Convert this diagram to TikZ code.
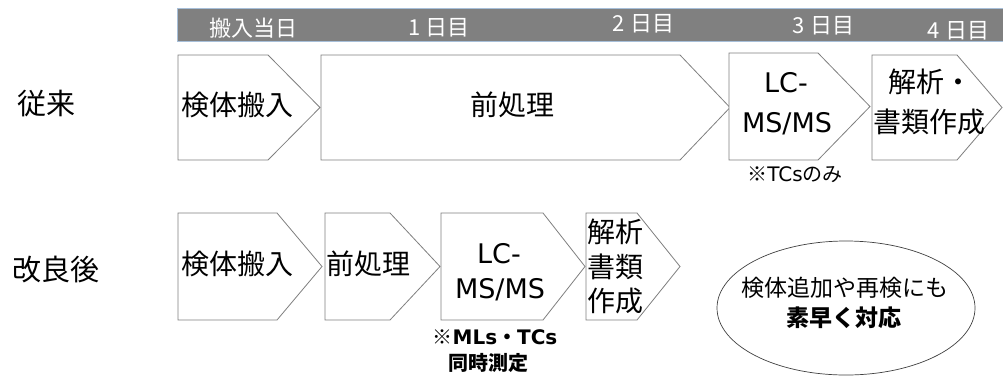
\documentclass[tikz,border=0pt]{standalone}
\usepackage{fontspec}
\setmainfont{Noto Sans CJK JP}
\newfontfamily\lat{DejaVu Sans}
\usetikzlibrary{shapes.geometric}
\definecolor{linegray}{HTML}{7F7F7F}
\definecolor{barfill}{HTML}{808080}
\definecolor{barline}{HTML}{A7BFD9}
\newcommand\pentshape[5]{% x1, xb, xt, ytop, ybot
  \draw[stagebox] (#1,#4) -- (#2,#4) -- (#3,{(#4+#5)/2}) -- (#2,#5) -- (#1,#5) -- cycle;}
\begin{document}
\begin{tikzpicture}[x=1pt,y=-1pt,
  stagebox/.style={draw=linegray, line width=0.8pt, fill=white},
  lbl/.style={inner sep=0pt, font=\fontsize{28}{34}\selectfont, text=black},
  latlbl/.style={inner sep=0pt, font=\fontsize{27}{34}\selectfont\lat, text=black},
  hdr/.style={inner sep=0pt, font=\fontsize{22}{26}\selectfont, text=white},
  rowlbl/.style={inner sep=0pt, font=\fontsize{29}{34}\selectfont, text=black},
  note/.style={inner sep=0pt, font=\fontsize{20}{24}\selectfont, text=black},
  bnote/.style={inner sep=0pt, font=\fontsize{20}{24}\selectfont\bfseries, text=black},
]
\useasboundingbox (0,0) rectangle (1003,376);
% header bar
\fill[barfill] (177,8) rectangle (1003,41);
\draw[barline, line width=0.8pt] (1003,8) -- (177,8) -- (177,41) -- (1003,41);
\node[hdr] (h0) at (253.5,28) {搬入当日};
\node[hdr] (h1) at (439,28) {1 日目};
\node[hdr] (h2) at (643.5,24) {2 日目};
\node[hdr] (h3) at (823.5,26) {3 日目};
\node[hdr] (h4) at (958.5,30.5) {4 日目};
% row labels
\node[rowlbl] (r1) at (46,104) {従来};
\node[rowlbl] (r2) at (56,269) {改良後};
% row 1
\pentshape{178}{268}{320}{55}{160}
\pentshape{321}{680}{730}{55}{160}
\pentshape{729}{818}{870}{53}{160}
\pentshape{872}{957}{1002}{55}{160}
\node[lbl, anchor=west] (a1) at (181,105) {検体搬入};
\node[lbl] (a2) at (512,105) {前処理};
\node[latlbl, anchor=base] (a3a) at (786,92) {LC-};
\node[latlbl, anchor=base] (a3b) at (787,132) {MS/MS};
\node[lbl] (a4a) at (930,82) {解析・};
\node[lbl] (a4b) at (929,122) {書類作成};
\node[note] (n1) at (795,175) {※{\lat TCs}のみ};
% row 2
\pentshape{178}{277}{322}{213}{320}
\pentshape{325}{390}{440}{213}{320}
\pentshape{441}{543}{585}{213}{320}
\pentshape{586}{637}{680}{213}{320}
\node[lbl, anchor=west] (b1) at (181,264) {検体搬入};
\node[lbl, anchor=west] (b2) at (326,264) {前処理};
\node[latlbl, anchor=base] (b3a) at (499,263) {LC-};
\node[latlbl, anchor=base] (b3b) at (500,298) {MS/MS};
\node[lbl, anchor=west] (b4a) at (587,232) {解析};
\node[lbl, anchor=west] (b4b) at (587,267) {書類};
\node[lbl, anchor=west] (b4c) at (587,301) {作成};
\node[bnote] (n2a) at (495,337) {※{\lat MLs}・{\lat TCs}};
\node[bnote] (n2b) at (488,363) {同時測定};
% ellipse
\node[draw=black!75, line width=0.7pt, ellipse, minimum width=258pt, minimum height=134pt, inner sep=0pt] (ell) at (846,308) {};
\node[inner sep=0pt, font=\fontsize{23}{28}\selectfont] (e1) at (845,288) {検体追加や再検にも};
\node[inner sep=0pt, font=\fontsize{23}{28}\selectfont\bfseries] (e2) at (844,318) {素早く対応};
\end{tikzpicture}
\end{document}
